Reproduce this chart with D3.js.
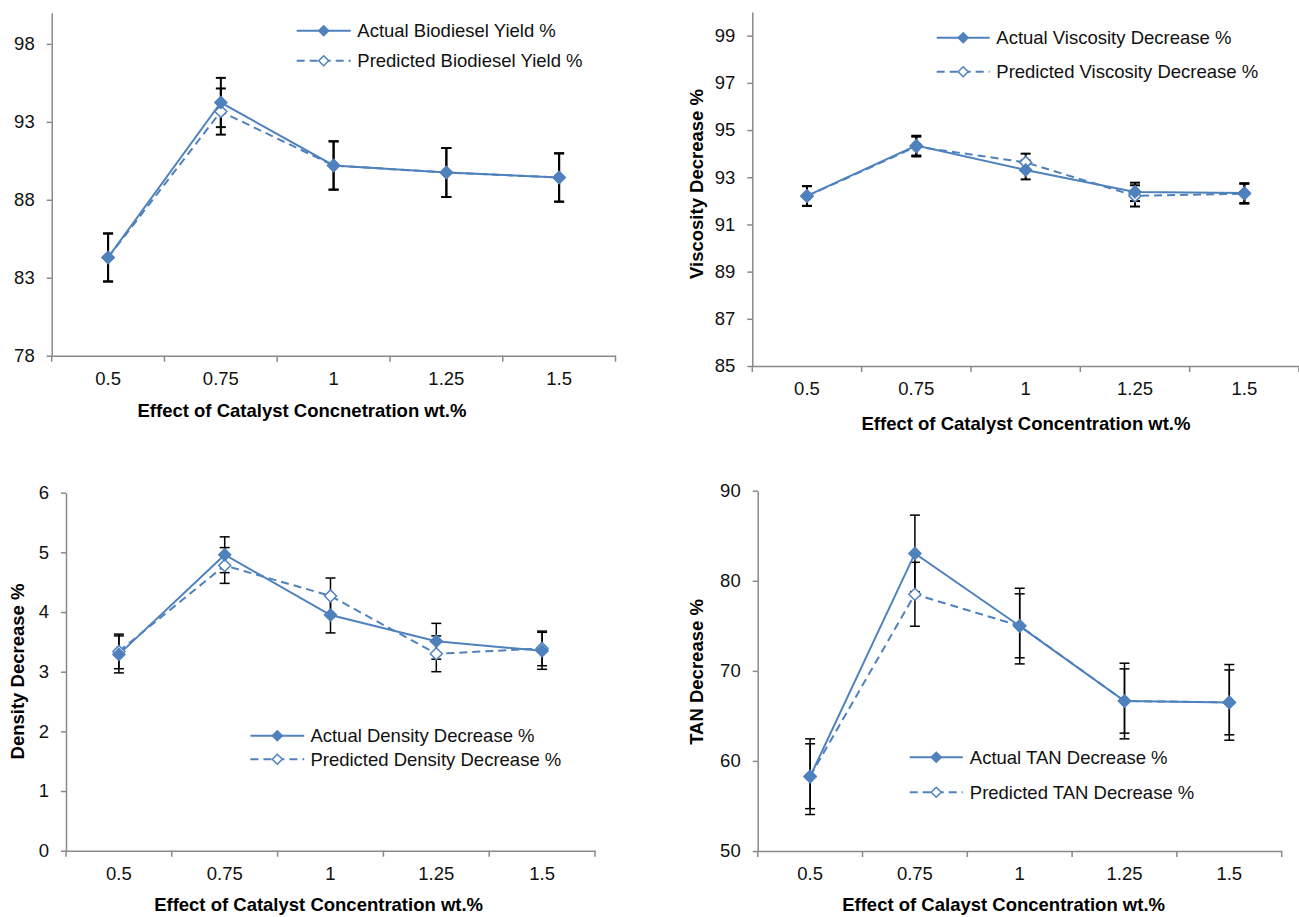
<!DOCTYPE html>
<html>
<head>
<meta charset="utf-8">
<script src="https://cdn.jsdelivr.net/npm/d3@7"></script>
<style>
  body { margin: 0; background: #fff; }
  svg { display: block; font-family: "Liberation Sans", Arial, sans-serif; }
  .axis path, .axis line { stroke: #898989; stroke-width: 1.5; }
  .axis text { font-size: 18.5px; fill: #111; }
  .title { font-size: 18.5px; font-weight: bold; fill: #000; }
  .leg { font-size: 18.5px; fill: #111; }
</style>
</head>
<body>
<script>
// Datos
const categories = ["0.5", "0.75", "1", "1.25", "1.5"];

const yieldActual = [84.3, 94.24, 90.2, 89.75, 89.43];
const yieldActualErr = [1.54, 1.58, 1.55, 1.57, 1.55];
const yieldPredicted = [84.3, 93.66, 90.2, 89.75, 89.43];
const yieldPredictedErr = [1.54, 1.48, 1.55, 1.57, 1.55];
const yieldTicks = [78, 83, 88, 93, 98];

const viscActual = [92.21, 94.34, 93.31, 92.38, 92.33];
const viscActualErr = [0.42, 0.42, 0.40, 0.39, 0.42];
const viscPredicted = [92.2, 94.3, 93.63, 92.21, 92.3];
const viscPredictedErr = [0.42, 0.42, 0.37, 0.45, 0.42];
const viscTicks = [85, 87, 89, 91, 93, 95, 97, 99];

const densActual = [3.29, 4.96, 3.95, 3.51, 3.35];
const densActualErr = [0.31, 0.30, 0.30, 0.30, 0.31];
const densPredicted = [3.34, 4.78, 4.27, 3.30, 3.39];
const densPredictedErr = [0.29, 0.30, 0.30, 0.30, 0.29];
const densTicks = [0, 1, 2, 3, 4, 5, 6];

const tanActual = [58.25, 83.04, 74.97, 66.65, 66.5];
const tanActualErr = [4.2, 4.25, 4.2, 4.2, 4.2];
const tanPredicted = [58.3, 78.5, 75.0, 66.65, 66.5];
const tanPredictedErr = [3.6, 3.55, 3.55, 3.57, 3.6];
const tanTicks = [50, 60, 70, 80, 90];

const azul = "#4F81BD";

const svg = d3.select("body").append("svg")
  .attr("width", 1299)
  .attr("height", 917);

// Rombo para los marcadores
const rombo = r => `M0,${-r}L${r},0L0,${r}L${-r},0Z`;

function panel(cfg) {
  const x = d3.scaleBand().domain(categories).range([cfg.left, cfg.right]).padding(0);
  const y = d3.scaleLinear().domain(cfg.domain).range([cfg.bottom, cfg.top]);
  const cx = c => x(c) + x.bandwidth() / 2;

  const g = svg.append("g");

  // Eje Y
  g.append("g")
    .attr("class", "axis")
    .attr("transform", `translate(${cfg.left},0)`)
    .call(d3.axisLeft(y).tickValues(cfg.ticks).tickSize(5).tickSizeOuter(0).tickPadding(12).tickFormat(d3.format("d")));

  // Eje X
  const ax = g.append("g")
    .attr("class", "axis")
    .attr("transform", `translate(0,${cfg.bottom})`)
    .call(d3.axisBottom(x).tickSize(0).tickPadding(16));
  ax.selectAll(".tick line").remove();
  ax.selectAll(".boundary")
    .data(categories.map(c => x(c)).concat([cfg.right]))
    .enter().append("line")
    .attr("class", "boundary")
    .attr("x1", d => d).attr("x2", d => d)
    .attr("y1", 0).attr("y2", 6);

  // Titulos
  g.append("text")
    .attr("class", "title")
    .attr("x", cfg.xTitle[0]).attr("y", cfg.xTitle[1])
    .attr("text-anchor", "middle")
    .text(cfg.xLabel);
  if (cfg.yLabel) {
    g.append("text")
      .attr("class", "title")
      .attr("transform", `translate(${cfg.yTitle[0]},${cfg.yTitle[1]}) rotate(-90)`)
      .attr("text-anchor", "middle")
      .attr("dominant-baseline", "central")
      .text(cfg.yLabel);
  }

  const series = [
    { vals: cfg.actual, err: cfg.actualErr, dash: null, fill: azul },
    { vals: cfg.predicted, err: cfg.predictedErr, dash: "8,5", fill: "#fff" }
  ];

  // Barras de error
  series.forEach(s => {
    const eb = g.append("g").attr("stroke", "#000").attr("stroke-width", cfg.errW).attr("fill", "none");
    categories.forEach((c, i) => {
      const hi = y(s.vals[i] + s.err[i]), lo = y(s.vals[i] - s.err[i]);
      eb.append("line").attr("x1", cx(c)).attr("x2", cx(c)).attr("y1", hi).attr("y2", lo);
      eb.append("line").attr("x1", cx(c) - 5).attr("x2", cx(c) + 5).attr("y1", hi).attr("y2", hi);
      eb.append("line").attr("x1", cx(c) - 5).attr("x2", cx(c) + 5).attr("y1", lo).attr("y2", lo);
    });
  });

  // Lineas
  const line = d3.line().x((d, i) => cx(categories[i])).y(d => y(d));
  series.slice().reverse().forEach(s => {
    g.append("path")
      .datum(s.vals)
      .attr("d", line)
      .attr("fill", "none")
      .attr("stroke", azul)
      .attr("stroke-width", 2)
      .attr("stroke-dasharray", s.dash);
  });

  // Marcadores (primero el predicho, luego el real encima)
  series.slice().reverse().forEach(s => {
    g.selectAll(null)
      .data(s.vals)
      .enter().append("path")
      .attr("d", rombo(6))
      .attr("transform", (d, i) => `translate(${cx(categories[i])},${y(d)})`)
      .attr("fill", s.fill)
      .attr("stroke", azul)
      .attr("stroke-width", 1.5);
  });

  // Leyenda
  const L = cfg.legend;
  const items = [
    { label: cfg.legendLabels[0], dash: null, fill: azul, yy: L.y1 },
    { label: cfg.legendLabels[1], dash: "8,5", fill: "#fff", yy: L.y2 }
  ];
  items.forEach(it => {
    g.append("line")
      .attr("x1", L.x0).attr("x2", L.x1).attr("y1", it.yy).attr("y2", it.yy)
      .attr("stroke", azul).attr("stroke-width", 2)
      .attr("stroke-dasharray", it.dash);
    g.append("path")
      .attr("d", rombo(5))
      .attr("transform", `translate(${(L.x0 + L.x1) / 2},${it.yy})`)
      .attr("fill", it.fill).attr("stroke", azul).attr("stroke-width", 1.5);
    g.append("text")
      .attr("class", "leg")
      .attr("x", L.tx).attr("y", it.yy)
      .attr("dominant-baseline", "central")
      .text(it.label);
  });
}

panel({
  left: 51.7, right: 615.5, top: 12.7, bottom: 355.7,
  domain: [78, 100], ticks: yieldTicks,
  actual: yieldActual, actualErr: yieldActualErr,
  predicted: yieldPredicted, predictedErr: yieldPredictedErr,
  errW: 2,
  xLabel: "Effect of Catalyst Concnetration wt.%", xTitle: [302, 417],
  yLabel: null,
  legendLabels: ["Actual Biodiesel Yield %", "Predicted Biodiesel Yield %"],
  legend: { x0: 296.7, x1: 350.7, tx: 357.3, y1: 30.7, y2: 60.7 }
});

panel({
  left: 752.3, right: 1299, top: 12.1, bottom: 366,
  domain: [85, 100], ticks: viscTicks,
  actual: viscActual, actualErr: viscActualErr,
  predicted: viscPredicted, predictedErr: viscPredictedErr,
  errW: 2,
  xLabel: "Effect of Catalyst Concentration wt.%", xTitle: [1026, 429.5],
  yLabel: "Viscosity Decrease %", yTitle: [696, 184],
  legendLabels: ["Actual Viscosity Decrease %", "Predicted Viscosity Decrease %"],
  legend: { x0: 936.7, x1: 989.7, tx: 996.3, y1: 37.7, y2: 71.7 }
});

panel({
  left: 66, right: 595, top: 492.7, bottom: 850.7,
  domain: [0, 6], ticks: densTicks,
  actual: densActual, actualErr: densActualErr,
  predicted: densPredicted, predictedErr: densPredictedErr,
  errW: 1.5,
  xLabel: "Effect of Catalyst Concentration wt.%", xTitle: [318.6, 911],
  yLabel: "Density Decrease %", yTitle: [17.5, 671.5],
  legendLabels: ["Actual Density Decrease %", "Predicted Density Decrease %"],
  legend: { x0: 250.4, x1: 304.2, tx: 310.4, y1: 735.7, y2: 759.3 }
});

panel({
  left: 757.7, right: 1281.7, top: 490.7, bottom: 851,
  domain: [50, 90], ticks: tanTicks,
  actual: tanActual, actualErr: tanActualErr,
  predicted: tanPredicted, predictedErr: tanPredictedErr,
  errW: 1.5,
  xLabel: "Effect of Calayst Concentration wt.%", xTitle: [1003.6, 911],
  yLabel: "TAN Decrease %", yTitle: [696.4, 672],
  legendLabels: ["Actual TAN Decrease %", "Predicted TAN Decrease %"],
  legend: { x0: 909.7, x1: 962.8, tx: 969.8, y1: 757.3, y2: 792.3 }
});
</script>
</body>
</html>
